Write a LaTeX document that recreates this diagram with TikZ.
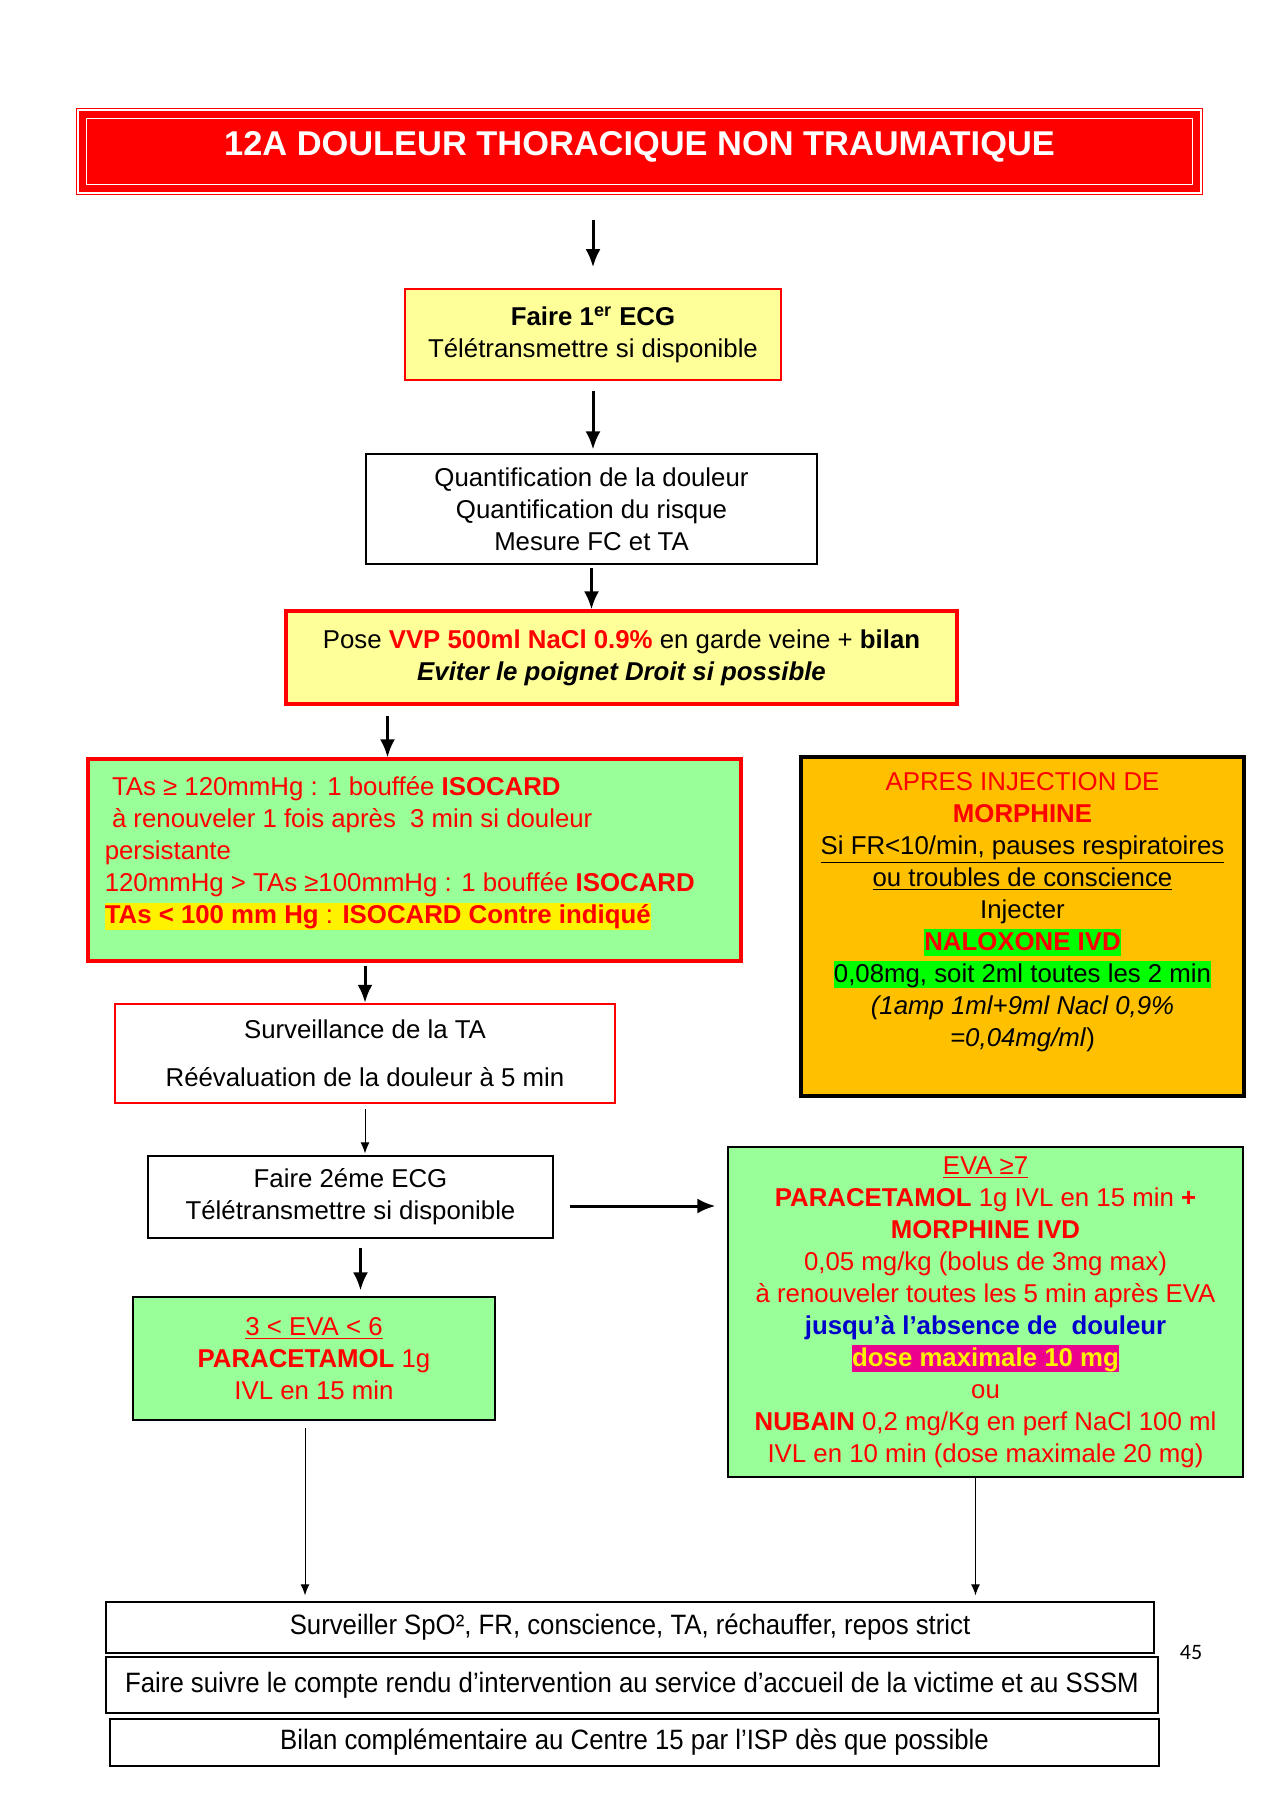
\documentclass[tikz,border=0pt]{standalone}
\usepackage{fontspec}
\setmainfont{Liberation Sans}
\newfontfamily\etroit[FakeStretch=0.92]{Liberation Sans}
\newfontfamily\chiffres{Carlito}
\usepackage{tikz}
\usetikzlibrary{arrows.meta}
\definecolor{jaunepale}{HTML}{FFFF99}
\definecolor{vertpale}{HTML}{99FF99}
\definecolor{orangeboite}{HTML}{FFC000}
\definecolor{vertvif}{HTML}{00FF00}
\definecolor{bleufonce}{HTML}{0000CC}
\newcommand{\corps}{\fontsize{12.9}{16}\selectfont}
\newcommand{\pied}{\etroit\fontsize{14}{16}\selectfont}
\newcommand{\surligne}[2]{{\setlength{\fboxsep}{0pt}\colorbox{#1}{\rule[-3pt]{0pt}{13.5pt}#2}}}
\tikzstyle{boite}=[draw, rectangle, inner sep=0pt, align=center, font=\corps]
\tikzstyle{fleche}=[-{Latex[length=9pt,width=7.5pt]}, line width=1.5pt]
\tikzstyle{fine}=[-{Latex[length=5.5pt,width=4.5pt]}, line width=0.5pt]

\begin{document}
\begin{tikzpicture}[x=0.5pt, y=-0.5pt]
   \useasboundingbox (0,0) rectangle (1280,1810);
   % titre
   \node[boite, fill=red, draw=red, line width=0.6pt, minimum width=559.5pt, minimum height=39.5pt,
         text=white, font=\bfseries\fontsize{17.2}{20}\selectfont, text height=13pt, text depth=8.7pt]
         (titre) at (639.5,151.5) {12A DOULEUR THORACIQUE NON TRAUMATIQUE};
   \draw[white, line width=0.6pt] ([shift={(3.5pt,-3.5pt)}]titre.north west) rectangle ([shift={(-3.5pt,3.5pt)}]titre.south east);
   \draw[red, line width=0.5pt] ([shift={(-1.5pt,1.5pt)}]titre.north west) rectangle ([shift={(1.5pt,-1.5pt)}]titre.south east);

   % colonne centrale
   \node[boite, fill=jaunepale, draw=red, line width=0.8pt, minimum width=188pt, minimum height=45.5pt]
         (ecg1) at (593,334.5) {\textbf{Faire 1\textsuperscript{er} ECG}\\Télétransmettre si disponible};
   \node[boite, fill=white, draw=black, line width=0.6pt, minimum width=225.5pt, minimum height=55pt]
         (quant) at (591.5,509) {Quantification de la douleur\\Quantification du risque\\Mesure FC et TA};
   \node[boite, fill=jaunepale, draw=red, line width=1.6pt, minimum width=335.5pt, minimum height=46.5pt]
         (vvp) at (621.5,657.5) {Pose \textcolor{red}{\textbf{VVP 500ml NaCl 0.9\%}} en garde veine + \textbf{bilan}\\\textbf{\textit{Eviter le poignet Droit si possible}}};

   % isocard
   \node[boite, fill=vertpale, draw=red, line width=1.6pt, minimum width=326.5pt, minimum height=101pt]
         (tas) at (414.5,860) {};
   \node[anchor=north west, align=left, inner sep=0pt, font=\corps, text=red] (tasTxt)
         at ([shift={(9pt,-9.5pt)}]tas.north west)
         {\hspace*{3.6pt}TAs ≥ 120mmHg : 1 bouffée \textbf{ISOCARD}\\
          \hspace*{3.6pt}à renouveler 1 fois après~ 3 min si douleur\\
          persistante\\
          120mmHg > TAs ≥100mmHg : 1 bouffée \textbf{ISOCARD}\\
          \surligne{yellow}{\textbf{TAs < 100 mm Hg} : \textbf{ISOCARD Contre indiqué}}};

   % naloxone
   \node[boite, fill=orangeboite, draw=black, line width=2pt, minimum width=221.5pt, minimum height=169.5pt]
         (apres) at (1022.5,926.5) {};
   \node[anchor=north, align=center, inner sep=0pt, font=\corps] (apresTxt) at ([yshift=-8.5pt]apres.north)
         {\textcolor{red}{APRES INJECTION DE}\\
          \textcolor{red}{\textbf{MORPHINE}}\\
          \underline{Si FR<10/min, pauses respiratoires}\\
          \underline{ou troubles de conscience}\\
          Injecter\\
          \surligne{vertvif}{\textcolor{red}{\textbf{NALOXONE IVD}}}\\
          \surligne{vertvif}{0,08mg, soit 2ml toutes les 2 min}\\
          \textit{(1amp 1ml+9ml Nacl 0,9\%}\\
          \textit{=0,04mg/ml})};

   \node[boite, fill=white, draw=red, line width=1.2pt, minimum width=250pt, minimum height=49.5pt]
         (surv) at (365,1053.5) {Surveillance de la TA\\[8pt]Réévaluation de la douleur à 5 min};
   \node[boite, fill=white, line width=0.6pt, minimum width=202.5pt, minimum height=41pt]
         (ecg2) at (350.5,1197) {Faire 2éme ECG\\Télétransmettre si disponible};
   \node[boite, fill=vertpale, line width=0.6pt, minimum width=181pt, minimum height=61.5pt, text=red]
         (eva3) at (314,1358.5) {\underline{3 < EVA < 6}\\\textbf{PARACETAMOL} 1g\\IVL en 15 min};
   \node[boite, fill=vertpale, line width=0.6pt, minimum width=257.5pt, minimum height=165pt, text=red]
         (eva7) at (985.5,1312)
         {\underline{EVA ≥7}\\
          \textbf{PARACETAMOL} 1g IVL en 15 min \textbf{+}\\
          \textbf{MORPHINE IVD}\\
          0,05 mg/kg (bolus de 3mg max)\\
          à renouveler toutes les 5 min après EVA\\
          \textcolor{bleufonce}{\textbf{jusqu’à l’absence de\ \ douleur}}\\
          \surligne{magenta}{\textcolor{yellow}{\textbf{dose maximale 10 mg}}}\\
          ou\\
          \textbf{NUBAIN} 0,2 mg/Kg en perf NaCl 100 ml\\
          IVL en 10 min (dose maximale 20 mg)};

   % bas de page
   \node[boite, line width=0.7pt, minimum width=524pt, minimum height=25.5pt, font=\pied]
         (bas1) at (630,1627.5) {Surveiller SpO², FR, conscience, TA, réchauffer, repos strict};
   \node[boite, line width=0.7pt, minimum width=526pt, minimum height=28pt, font=\pied]
         (bas2) at (632,1685) {Faire suivre le compte rendu d’intervention au service d’accueil de la victime et au SSSM};
   \node[boite, line width=0.7pt, minimum width=524.5pt, minimum height=23.5pt, font=\pied]
         (bas3) at (634.5,1742.5) {Bilan complémentaire au Centre 15 par l’ISP dès que possible};
   \node[font=\chiffres\fontsize{11}{13}\selectfont, inner sep=0pt] (page) at (1191,1652) {45};

   % fleches
   \coordinate (f4) at ([xshift=-13.5pt]tas.north);
   \coordinate (f7) at ([yshift=-4.5pt]ecg2.east);
   \coordinate (f8) at ([xshift=5pt]ecg2.south);
   \coordinate (f9) at ([xshift=-4.5pt]eva3.south);
   \coordinate (f10) at ([xshift=-5pt]eva7.south);
   \draw[fleche, shorten <=14pt, shorten >=10.5pt] (titre.south -| ecg1.north) -- (ecg1.north);
   \draw[fleche, shorten <=5pt, shorten >=2pt] (ecg1.south) -- (ecg1.south |- quant.north);
   \draw[fleche, shorten <=1.5pt] (quant.south) -- (quant.south |- vvp.north);
   \draw[fleche, shorten <=5pt] (f4 |- vvp.south) -- (f4);
   \draw[fleche, shorten <=1.5pt] (surv.north |- tas.south) -- (surv.north);
   \draw[fine, shorten <=2.5pt, shorten >=1pt] (surv.south) -- (surv.south |- ecg2.north);
   \draw[fleche, shorten <=8pt, shorten >=6pt] (f7) -- (f7 -| eva7.west);
   \draw[fleche, shorten <=4.5pt, shorten >=3pt] (f8) -- (f8 |- eva3.north);
   \draw[fine, shorten <=3.5pt, shorten >=3pt] (f9) -- (f9 |- bas1.north);
   \draw[fine, shorten >=3pt] (f10) -- (f10 |- bas1.north);
\end{tikzpicture}
\end{document}
